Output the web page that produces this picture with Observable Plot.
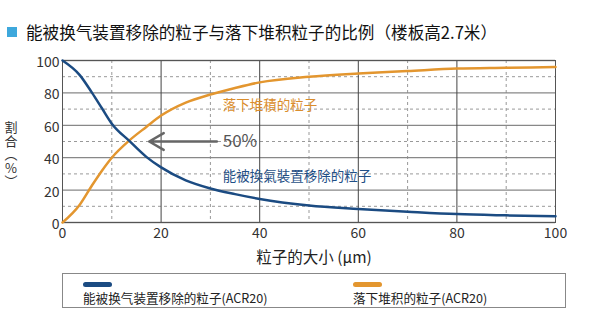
<!DOCTYPE html>
<html>
<head>
<meta charset="utf-8">
<script src="https://cdn.jsdelivr.net/npm/d3@7"></script>
<script src="https://cdn.jsdelivr.net/npm/@observablehq/plot@0.6"></script>
<style>
  html, body { margin: 0; padding: 0; background: #fff; }
  #wrap { position: relative; width: 600px; height: 332px; font-family: "Noto Sans CJK SC", "Noto Sans", sans-serif; color: #333; overflow: hidden; }
  #title { position: absolute; left: 26px; top: 20px; font-size: 16.6px; line-height: 24px; color: #111; white-space: nowrap; }
  #sq { position: absolute; left: 7px; top: 27px; width: 10px; height: 10px; background: #3ea8dc; }
  #chart { position: absolute; left: 0; top: 48px; }
  #ylab { position: absolute; left: 3px; top: 120px; width: 16px; font-size: 13px; line-height: 13.5px; color: #333; text-align: center; white-space: pre-line; }
  #legend { position: absolute; left: 62px; top: 273px; width: 504px; height: 35px; border: 1px solid #888; box-sizing: border-box; }
  .sw { position: absolute; top: 8px; width: 29px; height: 4.5px; border-radius: 3px; }
  .lt { position: absolute; top: 16px; font-size: 12.6px; line-height: 16px; color: #222; white-space: nowrap; }
</style>
</head>
<body>
<div id="wrap">
  <div id="sq"></div>
  <div id="title"></div>
  <div id="chart"></div>
  <div id="ylab"></div>
  <div id="legend"></div>
</div>
<script>
// ---- data ----
const titleText = "能被换气装置移除的粒子与落下堆积粒子的比例（楼板高2.7米）";
const yAxisLabelChars = ["割", "合", "︵", "%", "︶"];
const xAxisLabel = "粒子的大小 (μm)";
const particleSize = [0, 3.5, 6, 8, 10, 13.5, 17, 20, 25, 30, 35, 40, 50, 60, 70, 80, 90, 100];
const removedPct   = [100, 91, 80, 70.5, 61, 50.5, 40.5, 34, 26, 21, 17.5, 14.5, 10.5, 8.4, 6.7, 5.2, 4.4, 3.8];
const settledPct   = [0, 11, 23, 32, 40, 50.5, 59, 66, 74, 79, 83, 86.5, 90, 92, 93.5, 95, 95.5, 96];
const seriesNames  = ["能被换气装置移除的粒子(ACR20)", "落下堆积的粒子(ACR20)"];
const seriesColors = ["#1b4b82", "#e3962f"];
const annotations = [
  {x: 32.5, y: 72, text: "落下堆積的粒子", color: "#da8d2c", size: 13.5},
  {x: 32.5, y: 28, text: "能被換氣裝置移除的粒子", color: "#1f4f86", size: 13.5},
  {x: 32.5, y: 50, text: "50%", color: "#555", size: 17}
];
const arrow50 = [{x1: 31.3, x2: 17.6, y: 50}];
const xMajor = [0, 20, 40, 60, 80, 100];
const xMinor = [10, 30, 50, 70, 90];
const yMajor = [0, 20, 40, 60, 80, 100];
const yMinor = [10, 30, 50, 70, 90];

const removed = particleSize.map((x, i) => ({x, y: removedPct[i]}));
const settled = particleSize.map((x, i) => ({x, y: settledPct[i]}));

document.getElementById("title").textContent = titleText;
document.getElementById("ylab").textContent = yAxisLabelChars.join("\n");

const chart = Plot.plot({
  width: 600,
  height: 226,
  marginTop: 12,
  marginBottom: 52,
  marginLeft: 62,
  marginRight: 45,
  style: {fontFamily: "Noto Sans CJK SC, Noto Sans, sans-serif", fontSize: "14px", color: "#333", background: "transparent"},
  x: {domain: [0, 100]},
  y: {domain: [0, 100]},
  marks: [
    Plot.gridY(yMinor, {stroke: "#999", strokeOpacity: 1, strokeDasharray: "3,3"}),
    Plot.gridX(xMinor, {stroke: "#999", strokeOpacity: 1, strokeDasharray: "3,3"}),
    Plot.gridY(yMajor, {stroke: "#888", strokeOpacity: 1, strokeWidth: 1.3}),
    Plot.gridX(xMajor, {stroke: "#444", strokeOpacity: 1}),
    Plot.frame({stroke: "#555"}),
    Plot.axisY({ticks: yMajor, tickSize: 0, tickPadding: 3, label: null, fontSize: 14, fill: "#333", dy: 2}),
    Plot.axisX({ticks: xMajor, tickSize: 0, tickPadding: 6, label: null, fontSize: 14, fill: "#333"}),
    Plot.text([xAxisLabel], {frameAnchor: "bottom", dy: 36, dx: 5, fontSize: 15.5, fill: "#222", lineAnchor: "middle"}),
    Plot.line(settled, {x: "x", y: "y", stroke: seriesColors[1], strokeWidth: 2.5, curve: "monotone-x"}),
    Plot.line(removed, {x: "x", y: "y", stroke: seriesColors[0], strokeWidth: 2.5, curve: "monotone-x"}),
    Plot.arrow(arrow50, {x1: "x1", x2: "x2", y1: "y", y2: "y", stroke: "#666", strokeWidth: 2.5, headLength: 10}),
    Plot.text(annotations, {x: "x", y: "y", text: "text", fill: "color", fontSize: "size", textAnchor: "start"})
  ]
});
document.getElementById("chart").appendChild(chart);

const legend = document.getElementById("legend");
const legendX = [20, 290];
seriesNames.forEach((name, i) => {
  const sw = document.createElement("div");
  sw.className = "sw";
  sw.style.left = legendX[i] + "px";
  sw.style.background = seriesColors[i];
  legend.appendChild(sw);
  const t = document.createElement("div");
  t.className = "lt";
  t.style.left = legendX[i] + "px";
  t.textContent = name;
  legend.appendChild(t);
});
</script>
</body>
</html>
